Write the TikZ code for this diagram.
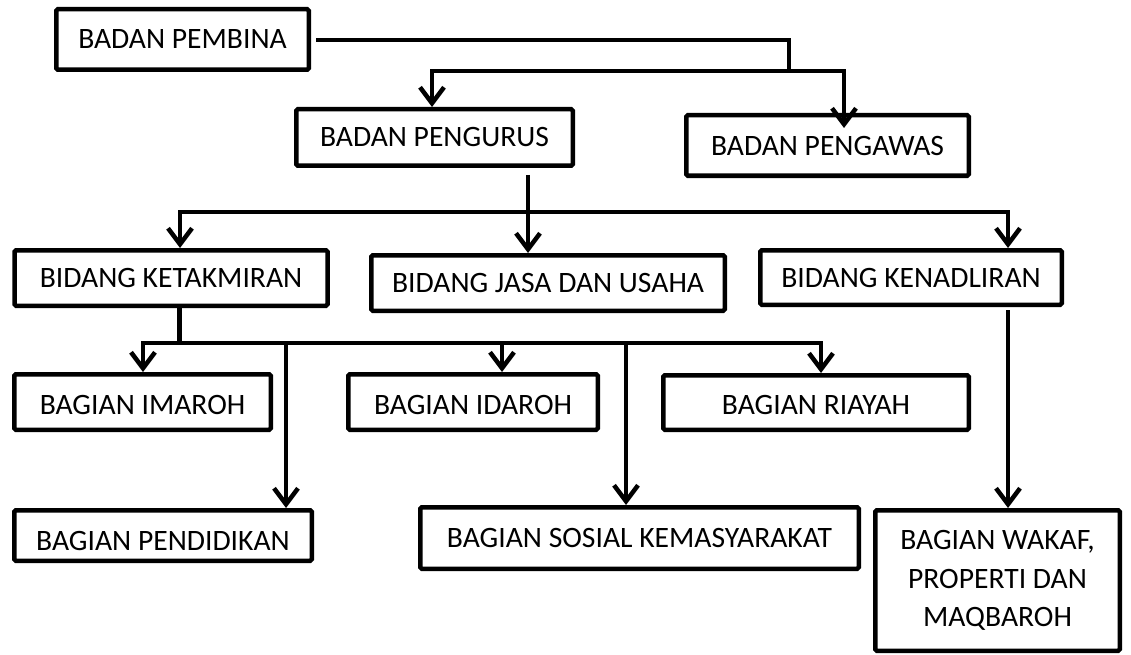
\documentclass[tikz,border=0pt]{standalone}
\usepackage{fontspec}
\setmainfont{Carlito}
\usetikzlibrary{arrows.meta}
\begin{document}
\begin{tikzpicture}[x=1pt,y=-1pt,
  box/.style={draw,line width=4.5pt,rounded corners=1.5pt,inner sep=0pt,
    font=\fontsize{29.6}{38.5}\selectfont,align=center},
  conn/.style={line width=4.5pt},
  arr/.style={conn,-{Straight Barb[length=16pt,width=24pt]}}]
\useasboundingbox (0,0) rectangle (1131,655);
% boxes
\node[box,minimum width=252.5pt,minimum height=60.5pt] (pembina) at (182.5,39.5) {BADAN PEMBINA};
\node[box,minimum width=276.5pt,minimum height=56.5pt] (pengurus) at (434.5,137.5) {BADAN PENGURUS};
\node[box,minimum width=282.5pt,minimum height=60.5pt] (pengawas) at (827.5,145.5) {BADAN PENGAWAS};
\node[box,minimum width=313pt,minimum height=55.5pt] (ketakmiran) at (171,278) {BIDANG KETAKMIRAN};
\node[box,minimum width=353.5pt,minimum height=55.5pt] (jasa) at (548,283) {BIDANG JASA DAN USAHA};
\node[box,minimum width=301.5pt,minimum height=54.5pt] (kenadliran) at (911,277.5) {BIDANG KENADLIRAN};
\node[box,minimum width=256.5pt,minimum height=55.5pt,text height=25pt] (imaroh) at (142.5,402) {BAGIAN IMAROH};
\node[box,minimum width=249.5pt,minimum height=55.5pt,text height=25pt] (idaroh) at (473,402) {BAGIAN IDAROH};
\node[box,minimum width=305.5pt,minimum height=54.5pt,text height=25pt] (riayah) at (816,402.5) {BAGIAN RIAYAH};
\node[box,minimum width=297.5pt,minimum height=50.5pt,text height=31pt] (pendidikan) at (163,535.5) {BAGIAN PENDIDIKAN};
\node[box,minimum width=438.5pt,minimum height=61.5pt] (sosial) at (639.5,538) {BAGIAN SOSIAL KEMASYARAKAT};
\node[box,minimum width=244.5pt,minimum height=140.5pt] (wakaf) at (997.5,580.5) {BAGIAN WAKAF,\\PROPERTI DAN\\MAQBAROH};
% top connectors
\coordinate (t0) at (316,40);
\coordinate (t1) at (789,40);
\coordinate (t2) at (789,71);
\coordinate (b1) at (432,71);
\coordinate (b2) at (844,71);
\coordinate (p2) at (844,128);
\draw[conn] (t0) -- (t1) -- (t2);
\draw[arr] (t2) -- (b1) -- (b1 |- pengurus.north);
\draw[arr] (t2) -- (b2) -- (p2);
% pengurus level
\coordinate (c0) at (528,175);
\coordinate (cM) at (528,212);
\coordinate (cL) at (180,212);
\coordinate (cR) at (1008,212);
\draw[arr] (c0) -- (c0 |- jasa.north);
\draw[arr] (cM) -- (cL) -- (cL |- ketakmiran.north);
\draw[arr] (cM) -- (cR) -- (cR |- kenadliran.north);
% ketakmiran level
\coordinate (dT) at (179.5,343);
\coordinate (dA) at (143,343);
\coordinate (dB) at (502,343);
\coordinate (dC) at (821,343);
\coordinate (dP) at (286,343);
\coordinate (dS) at (626,343);
\draw[conn] (dT |- ketakmiran.south) -- (dT);
\draw[arr] (dT) -- (dA) -- (dA |- imaroh.north);
\draw[arr] (dT) -- (dC) -- (dC |- riayah.north);
\draw[arr] (dB) -- (dB |- idaroh.north);
\draw[arr] (dP) -- (dP |- pendidikan.north);
\draw[arr] (dS) -- (dS |- sosial.north);
% kenadliran
\coordinate (eT) at (1008,310);
\draw[arr] (eT) -- (eT |- wakaf.north);
\end{tikzpicture}
\end{document}
